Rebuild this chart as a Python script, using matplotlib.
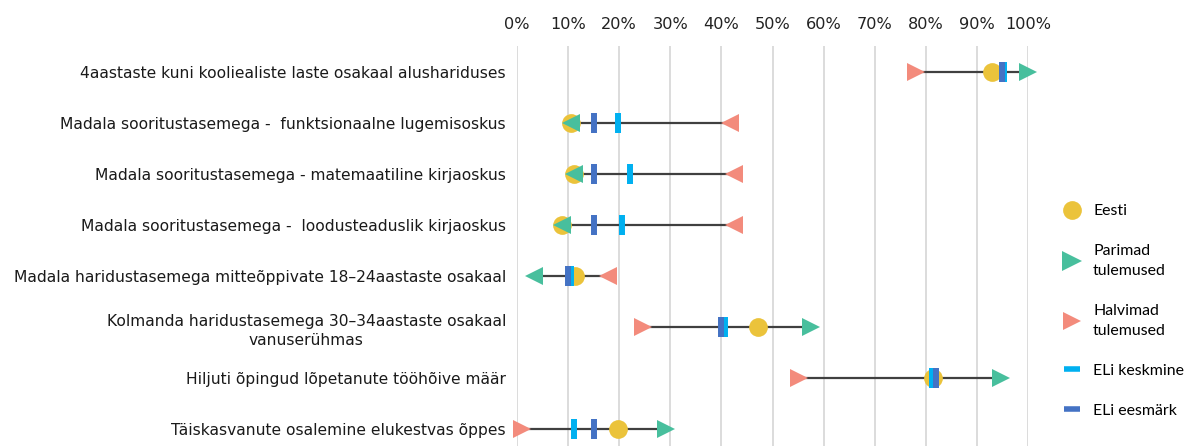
import numpy as np
import matplotlib.pyplot as plt
from matplotlib.lines import Line2D

indicators = [
    "4aastaste kuni kooliealiste laste osakaal alushariduses",
    "Madala sooritustasemega -  funktsionaalne lugemisoskus",
    "Madala sooritustasemega - matemaatiline kirjaoskus",
    "Madala sooritustasemega -  loodusteaduslik kirjaoskus",
    "Madala haridustasemega mitteõppivate 18–24aastaste osakaal",
    "Kolmanda haridustasemega 30–34aastaste osakaal\nvanuserühmas",
    "Hiljuti õpingud lõpetanute tööhõive määr",
    "Täiskasvanute osalemine elukestvas õppes",
]
eesti = [92.9, 10.6, 11.2, 8.8, 11.3, 47.2, 81.5, 19.7]
parimad = [100.0, 10.6, 11.1, 8.8, 3.3, 57.6, 94.7, 29.2]
halvimad = [78.1, 41.7, 42.4, 42.4, 17.9, 24.6, 55.2, 0.9]
eli_keskmine = [95.4, 19.7, 22.2, 20.6, 10.6, 40.7, 81.3, 11.1]
eli_eesmark = [95.0, 15.0, 15.0, 15.0, 10.0, 40.0, 82.0, 15.0]
# kas suurem väärtus on parem (määrab kolmnurkade suuna)
higher_better = [True, False, False, False, False, True, True, True]
ticks = np.arange(0, 101, 10)

c_eesti = "#EBC33B"
c_best = "#48BF9D"
c_worst = "#F38B7C"
c_avg = "#00B0F0"
c_target = "#4472C4"

fig = plt.figure(figsize=(11.85, 4.46), dpi=100)
ax = fig.add_axes([517 / 1185, 0, 511 / 1185, 400 / 446])

y = np.arange(len(indicators))
ax.hlines(y, halvimad, parimad, color="#404040", lw=1.6, zorder=2)
ax.plot(eesti, y, "o", color=c_eesti, ms=13.5, mew=0, zorder=3, clip_on=False)
for i in y:
    m = ">" if higher_better[i] else "<"
    ax.plot(parimad[i], i, m, color=c_best, ms=12.5, mew=0, zorder=4, clip_on=False)
    ax.plot(halvimad[i], i, m, color=c_worst, ms=12.5, mew=0, zorder=4, clip_on=False)
ax.plot(eli_keskmine, y, "|", color=c_avg, ms=14.5, mew=4.3, zorder=5, clip_on=False)
ax.plot(eli_eesmark, y, "|", color=c_target, ms=14.5, mew=4.3, zorder=6, clip_on=False)

ax.set_xlim(0, 100)
ax.set_ylim(7.33, -0.51)
ax.set_xticks(ticks)
ax.set_xticklabels([f"{t}%" for t in ticks])
ax.xaxis.tick_top()
ax.tick_params(axis="x", length=0, pad=10, labelsize=11.6, labelcolor="#222222")
ax.set_yticks(y)
ax.set_yticklabels(indicators, fontsize=11.2, color="#1a1a1a", multialignment="center",
                   linespacing=1.35)
ax.tick_params(axis="y", length=0, pad=8)
ax.grid(axis="x", color="#d9d9d9", lw=1.3, zorder=0)
ax.set_axisbelow(True)
for s in ax.spines.values():
    s.set_visible(False)

handles = [
    Line2D([], [], ls="", marker="o", color=c_eesti, ms=13.5, mew=0),
    Line2D([], [], ls="", marker=">", color=c_best, ms=14, mew=0),
    Line2D([], [], ls="", marker=">", color=c_worst, ms=12.5, mew=0),
    Line2D([], [], ls="", marker="_", color=c_avg, ms=12, mew=4),
    Line2D([], [], ls="", marker="_", color=c_target, ms=12, mew=4),
]
labels = ["Eesti", "Parimad\ntulemused", "Halvimad\ntulemused", "ELi keskmine", "ELi eesmärk"]
leg = fig.legend(handles, labels, loc="upper left", bbox_to_anchor=(1048 / 1185, 1 - 190 / 446),
                 frameon=False, handlelength=1.2, handletextpad=0.75, labelspacing=1.63,
                 prop={"family": "Lato", "size": 11.4})
for t in leg.get_texts():
    t.set_linespacing(1.55)

fig.savefig("out.png", dpi=100)
